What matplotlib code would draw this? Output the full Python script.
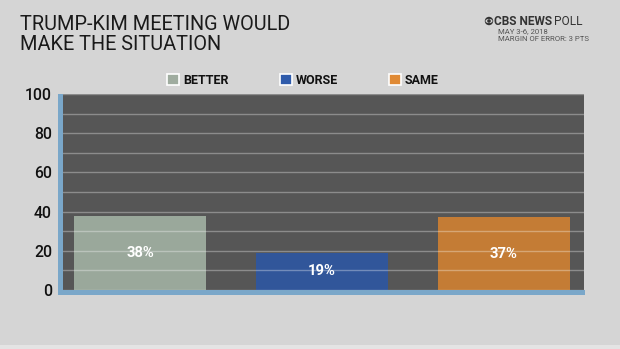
import matplotlib
matplotlib.use("Agg")
import matplotlib.pyplot as plt
from matplotlib.patches import Rectangle, Patch, Circle, Ellipse
from matplotlib.transforms import IdentityTransform
from matplotlib.ticker import MultipleLocator

categories = ["BETTER", "WORSE", "SAME"]
values = [38, 19, 37]
value_labels = ["38%", "19%", "37%"]
bar_colors = ["#9aa89b", "#31569a", "#c47c35"]
legend_colors = ["#9fac9f", "#2f5bab", "#e08a35"]
yticks = [0, 20, 40, 60, 80, 100]

title = "TRUMP-KIM MEETING WOULD\nMAKE THE SITUATION"
source_line1 = "MAY 3-6, 2018"
source_line2 = "MARGIN OF ERROR: 3 PTS"

W, H = 620, 349
fig = plt.figure(figsize=(6.2, 3.49), dpi=100)
fig.patch.set_facecolor("#d5d5d5")

def fx(px):
    return px / W

def fy(py):
    return 1 - py / H

# bottom lighter strip
fig.add_artist(Rectangle((0, 0), 1, fy(345), transform=fig.transFigure,
                         facecolor="#e4e4e4", edgecolor="none", zorder=0))

left, right, top, bottom = 63, 584, 94, 290
ax = fig.add_axes([fx(left), fy(bottom), fx(right) - fx(left), fy(top) - fy(bottom)])
ax.set_facecolor("#565656")

x = list(range(len(categories)))
ax.bar(x, values, width=0.725, color=bar_colors, zorder=2)
for xi, v, lab in zip(x, values, value_labels):
    ax.text(xi, v / 2, lab, ha="center", va="center", color="white",
            fontsize=10.6, fontweight="bold", family="Roboto", zorder=4)

ax.set_xlim(-0.423, 2.44)
ax.set_ylim(0, 100)
ax.set_xticks([])
ax.set_yticks(yticks)
ax.yaxis.set_minor_locator(MultipleLocator(10))
ax.set_axisbelow(False)
ax.grid(axis="y", which="both", color="white", alpha=0.32, linewidth=1.0, zorder=3)
ax.tick_params(axis="y", which="both", length=0, pad=8, labelsize=11.3, labelcolor="#111111")
for lab in ax.get_yticklabels():
    lab.set_fontfamily("Roboto")
    lab.set_fontweight("medium")
for s in ax.spines.values():
    s.set_visible(False)

# blue frame
frame_col = "#7aa7c9"
fig.add_artist(Rectangle((fx(58), fy(295)), fx(63) - fx(58), fy(94) - fy(295),
                         transform=fig.transFigure, facecolor=frame_col, edgecolor="none", zorder=5))
fig.add_artist(Rectangle((fx(58), fy(295)), fx(585) - fx(58), fy(289.5) - fy(295),
                         transform=fig.transFigure, facecolor=frame_col, edgecolor="none", zorder=5))

# title
fig.text(fx(20), fy(15), title, ha="left", va="top", fontsize=14.3,
         family="Roboto", fontweight="normal", color="#1a1a1a", linespacing=1.06)

# CBS header
ident = IdentityTransform()
cx, cy = 489, H - 21
fig.add_artist(Circle((cx, cy), 4.2, transform=ident, facecolor="#333333", edgecolor="none"))
fig.add_artist(Ellipse((cx, cy), 7.0, 4.2, transform=ident, facecolor="#d5d5d5", edgecolor="none"))
fig.add_artist(Circle((cx, cy), 1.8, transform=ident, facecolor="#333333", edgecolor="none"))
t1 = fig.text(fx(494), fy(21.5), "CBS NEWS", ha="left", va="center", fontsize=8.6,
              family="Roboto", fontweight="bold", color="#333333")
fig.canvas.draw()
bb = t1.get_window_extent(fig.canvas.get_renderer())
fig.text((bb.x1 + 2) / W, fy(21.5), "POLL", ha="left", va="center", fontsize=8.6,
         family="Roboto", color="#333333")
fig.text(fx(498), fy(31), source_line1, ha="left", va="center", fontsize=5.6,
         family="Roboto", color="#555555")
fig.text(fx(498), fy(39), source_line2, ha="left", va="center", fontsize=5.6,
         family="Roboto", color="#555555")

# legend
handles = [Patch(facecolor=c, edgecolor="white", linewidth=1.2, label=l)
           for c, l in zip(legend_colors, categories)]
fs = 9.0
fspx = fs * 100 / 72
leg = fig.legend(handles=handles, loc="center left", bbox_to_anchor=(fx(167), fy(80)),
                 ncol=3, frameon=False, fontsize=fs, borderpad=0, borderaxespad=0,
                 handlelength=12 / fspx, handleheight=12 / fspx,
                 handletextpad=4 / fspx, columnspacing=51 / fspx,
                 prop={"family": "Roboto", "weight": "bold", "size": fs})
for t in leg.get_texts():
    t.set_color("#111111")

fig.savefig("out.png", dpi=100, facecolor=fig.get_facecolor())
